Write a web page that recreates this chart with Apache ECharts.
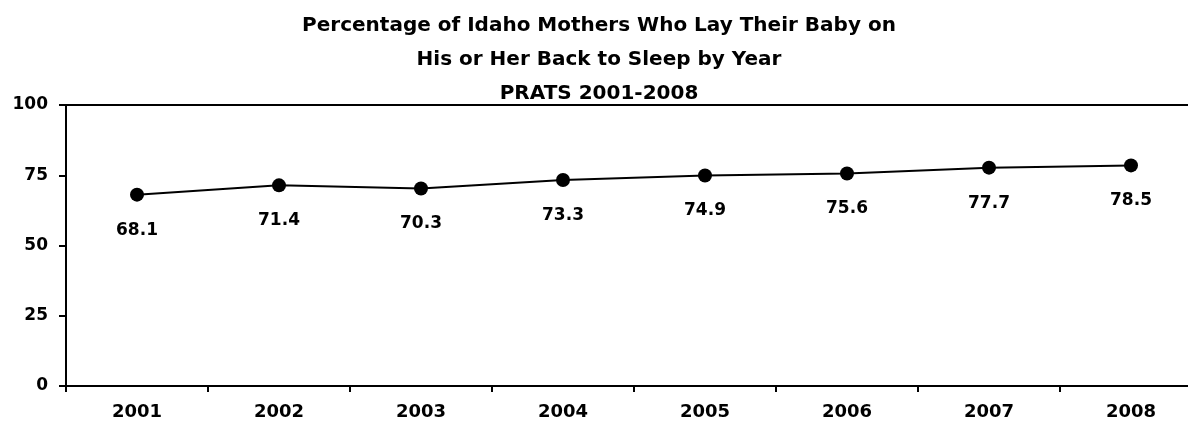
<!DOCTYPE html>
<html>
<head>
<meta charset="utf-8">
<script src="https://cdn.jsdelivr.net/npm/echarts@6/dist/echarts.min.js"></script>
<style>
  html, body { margin: 0; padding: 0; background: #fff; }
  #chart { width: 1188px; height: 432px; }
</style>
</head>
<body>
<div id="chart"></div>
<script>
// Survey years and share of mothers placing baby on back to sleep (%)
const years = ['2001', '2002', '2003', '2004', '2005', '2006', '2007', '2008'];
const backSleepPct = [68.1, 71.4, 70.3, 73.3, 74.9, 75.6, 77.7, 78.5];
const titleLines = [
  'Percentage of Idaho Mothers Who Lay Their Baby on',
  'His or Her Back to Sleep by Year',
  'PRATS 2001-2008'
];

const font = 'DejaVu Sans';
const chart = echarts.init(document.getElementById('chart'), null, { renderer: 'canvas' });

chart.setOption({
  animation: false,
  backgroundColor: '#ffffff',
  title: {
    text: titleLines.join('\n'),
    left: 594,
    textAlign: 'center',
    top: 4,
    textStyle: {
      fontFamily: font,
      fontSize: 20,
      fontWeight: 'bold',
      color: '#000',
      lineHeight: 34
    }
  },
  grid: {
    // plot area runs past the right edge of the canvas
    outerBoundsMode: 'none',
    left: 66,
    top: 105,
    width: 1136,
    height: 281,
    show: true,
    borderColor: '#000',
    borderWidth: 2,
    backgroundColor: 'transparent'
  },
  xAxis: {
    type: 'category',
    data: years,
    boundaryGap: true,
    axisLine: { lineStyle: { color: '#000', width: 2 } },
    axisTick: { show: true, length: 6, lineStyle: { color: '#000', width: 2 } },
    axisLabel: {
      margin: 17,
      fontFamily: font,
      fontSize: 18,
      fontWeight: 'bold',
      color: '#000'
    },
    splitLine: { show: false }
  },
  yAxis: {
    type: 'value',
    min: 0,
    max: 100,
    interval: 25,
    axisLine: { show: true, lineStyle: { color: '#000', width: 2 } },
    axisTick: { show: true, length: 7, lineStyle: { color: '#000', width: 2 } },
    axisLabel: {
      margin: 18,
      fontFamily: font,
      fontSize: 17,
      fontWeight: 'bold',
      color: '#000'
    },
    splitLine: { show: false }
  },
  series: [{
    type: 'line',
    data: backSleepPct,
    symbol: 'circle',
    symbolSize: 14,
    itemStyle: { color: '#000' },
    lineStyle: { color: '#000', width: 2 },
    label: {
      show: true,
      position: 'bottom',
      distance: 20,
      fontFamily: font,
      fontSize: 17,
      fontWeight: 'bold',
      color: '#000'
    }
  }]
});
</script>
</body>
</html>
